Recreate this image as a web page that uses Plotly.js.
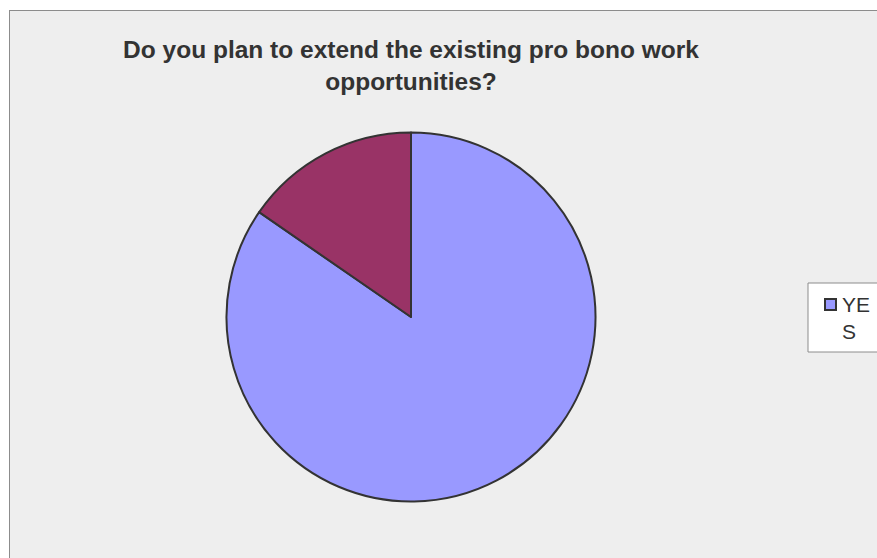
<!DOCTYPE html>
<html>
<head>
<meta charset="utf-8">
<script src="https://cdn.plot.ly/plotly-3.0.1.min.js"></script>
<style>
html,body{margin:0;padding:0;background:#ffffff;overflow:hidden;}
#chart{position:absolute;left:9px;top:10px;width:868px;height:548px;border-left:1px solid #8c8c8c;border-top:1px solid #8c8c8c;box-sizing:border-box;}
</style>
</head>
<body>
<div id="chart"></div>
<script>
const labels = ['YES', 'NO'];
const values = [11, 2];
const colors = ['#9999ff', '#993366'];
const titleText = 'Do you plan to extend the existing pro bono work<br>opportunities?';
const legendText = 'YE<br>S';

const W = 867, H = 547;
const cx = 401, cy = 306, r = 184.5;

const data = [{
  type: 'pie',
  labels: labels,
  values: values,
  sort: false,
  direction: 'clockwise',
  rotation: 0,
  textinfo: 'none',
  hoverinfo: 'label+value+percent',
  marker: {colors: colors, line: {color: '#333333', width: 2}},
  domain: {x: [(cx - r) / W, (cx + r) / W], y: [(H - cy - r) / H, (H - cy + r) / H]},
  showlegend: false
}];

const layout = {
  width: W, height: H,
  margin: {l: 0, r: 0, t: 0, b: 0},
  paper_bgcolor: '#eeeeee',
  title: {
    text: titleText,
    font: {family: 'Liberation Sans, Arial, sans-serif', size: 24.5, color: '#333333', weight: 'bold'},
    x: cx / W, xanchor: 'center', y: 1 - 47 / H, yanchor: 'top'
  },
  shapes: [
    {type: 'rect', xref: 'paper', yref: 'paper', x0: 798 / W, x1: 1.01, y0: 1 - 341 / H, y1: 1 - 272 / H,
     fillcolor: '#ffffff', line: {color: '#8c8c8c', width: 1}},
    {type: 'rect', xref: 'paper', yref: 'paper', x0: 815 / W, x1: 826 / W, y0: 1 - 299 / H, y1: 1 - 288 / H,
     fillcolor: colors[0], line: {color: '#333333', width: 2}}
  ],
  annotations: [
    {xref: 'paper', yref: 'paper', x: 830 / W, y: 1 - 307 / H, xanchor: 'left', yanchor: 'middle',
     text: legendText, showarrow: false, align: 'left',
     font: {family: 'Liberation Sans, Arial, sans-serif', size: 21, color: '#333333'}}
  ]
};

Plotly.newPlot('chart', data, layout, {displayModeBar: false, staticPlot: true});
</script>
</body>
</html>
